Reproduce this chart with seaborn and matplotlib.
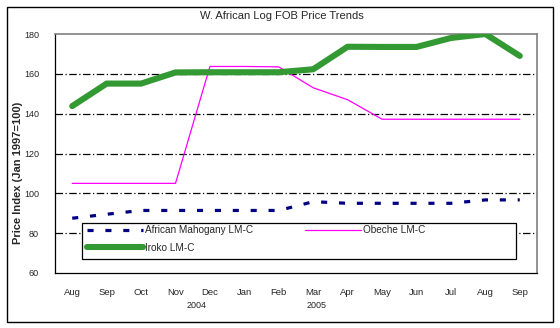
import matplotlib
matplotlib.use("Agg")
import matplotlib.pyplot as plt
import matplotlib.patches as mpatches
import numpy as np
import pandas as pd
import seaborn as sns

# Monthly price index, Aug 2004 - Sep 2005
months = ["Aug", "Sep", "Oct", "Nov", "Dec", "Jan", "Feb",
          "Mar", "Apr", "May", "Jun", "Jul", "Aug", "Sep"]
mahogany = [87.5, 89.5, 91.4, 91.4, 91.4, 91.4, 91.4,
            95.8, 95.0, 95.0, 95.0, 95.0, 96.7, 96.7]
obeche = [105.0, 105.0, 105.0, 105.0, 163.7, 163.7, 163.5,
          153.0, 147.0, 137.2, 137.2, 137.2, 137.2, 137.2]
iroko = [143.8, 155.1, 155.1, 160.7, 160.8, 160.8, 160.8,
         162.3, 173.6, 173.5, 173.5, 178.0, 180.0, 169.0]
series_names = ["African Mahogany LM-C", "Obeche LM-C", "Iroko LM-C"]
y_ticks = [60, 80, 100, 120, 140, 160, 180]
year_labels = ["2004", "2005"]

x = np.arange(len(months))
df = pd.DataFrame({"idx": x, "mahogany": mahogany, "obeche": obeche, "iroko": iroko})

sns.set_style("white")
plt.rcParams["font.family"] = ["Liberation Sans", "DejaVu Sans"]

fig = plt.figure(figsize=(5.6, 3.28), dpi=100)
ax = fig.add_axes([55 / 560, 1 - 273 / 328, 482 / 560, 239 / 328])

# dash-dot gridlines
for v in y_ticks[1:-1]:
    ax.axhline(v, color="black", lw=0.9, ls=(0, (6, 2, 1, 2)), zorder=1)

sns.lineplot(data=df, x="idx", y="obeche", ax=ax, color="#FF00FF", lw=0.9,
             label=series_names[1], zorder=3)
sns.lineplot(data=df, x="idx", y="iroko", ax=ax, color="#339933", lw=4.4,
             label=series_names[2], zorder=4)
sns.lineplot(data=df, x="idx", y="mahogany", ax=ax, color="#000080", lw=2.3,
             label=series_names[0], zorder=5)
mah_line = ax.lines[-1]
mah_line.set_dashes((1.9, 3.7))
mah_line.set_dash_capstyle("butt")

ax.set_xlim(-0.5, len(months) - 0.5)
ax.set_ylim(60, 180)
ax.set_xlabel("")
ax.set_ylabel("Price Index (Jan 1997=100)", fontsize=8, fontweight="bold")
ax.yaxis.set_label_coords(-0.066, 0.42)

ax.set_yticks(y_ticks)
ax.set_yticklabels([str(v) for v in y_ticks], fontsize=6.5)
ax.set_xticks(np.arange(-0.5, len(months), 1.0))
ax.set_xticklabels([])
ax.set_xticks(x, minor=True)
ax.set_xticklabels(months, minor=True, fontsize=6.8)
ax.tick_params(axis="x", which="major", direction="out", length=3.5, width=0.8, color="black")
ax.tick_params(axis="x", which="minor", length=0, pad=11)
ax.tick_params(axis="y", direction="out", length=3.5, width=0.8, color="black", pad=8)

for s in ["left", "bottom"]:
    ax.spines[s].set_color("black")
    ax.spines[s].set_linewidth(0.9)
for s in ["top", "right"]:
    ax.spines[s].set_color("#808080")
    ax.spines[s].set_linewidth(1.2)

# year labels under the month axis
ax.text(3.6, -0.135, year_labels[0], transform=ax.get_xaxis_transform(),
        ha="center", va="center", fontsize=6.5)
ax.text(7.1, -0.135, year_labels[1], transform=ax.get_xaxis_transform(),
        ha="center", va="center", fontsize=6.5)

# legend box
box_l, box_b, box_w, box_h = 0.056, 0.059, 0.900, 0.150
ax.add_patch(mpatches.Rectangle((box_l, box_b), box_w, box_h, transform=ax.transAxes,
                                facecolor="white", edgecolor="black", lw=0.9, zorder=9))

# legend: mahogany and iroko in the first column, obeche in the second
handles, labels = ax.get_legend_handles_labels()
order = [labels.index(series_names[0]), labels.index(series_names[2]), labels.index(series_names[1])]
leg = ax.legend([handles[i] for i in order], [labels[i] for i in order],
                ncol=2, loc="upper left",
                bbox_to_anchor=(box_l + 2 / 482, box_b + box_h + 1 / 239),
                fontsize=7.2, frameon=False, borderaxespad=0,
                handlelength=5.6, handletextpad=0.2, labelspacing=0.75,
                borderpad=0.3, columnspacing=5.2)
leg.set_zorder(10)

fig.text(282 / 560, 1 - 16 / 328, "W. African Log FOB Price Trends",
         ha="center", va="center", fontsize=8)

# outer chart border
fig.patches.append(mpatches.Rectangle((7 / 560, 6 / 328), 546 / 560, 315 / 328,
                                      transform=fig.transFigure, fill=False,
                                      edgecolor="black", lw=1.0))

fig.savefig("out.png", dpi=100)
